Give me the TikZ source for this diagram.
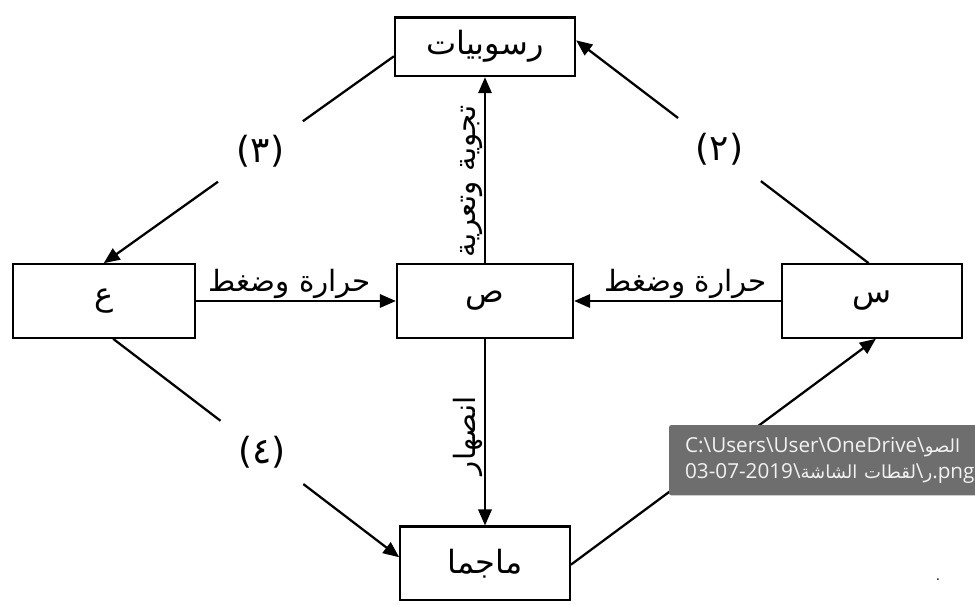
\documentclass[tikz,border=0pt]{standalone}
\usepackage{fontspec}
\usetikzlibrary{positioning, arrows.meta}
\TeXXeTstate=1
\newfontfamily\arabicfont[Script=Arabic]{DejaVu Sans}
\newfontfamily\tipfont{Open Sans}
\newcommand\tiparabic{\arabicfont\fontsize{13.5}{19.5}\selectfont}
\definecolor{tipgray}{HTML}{6E6E6E}
\definecolor{tiptext}{HTML}{F2F2F2}
\tikzset{
        ->, % every connector is directed
        >={Triangle[length=12pt,width=10pt]}, % filled triangle heads
        node distance=140pt, % gap between the boxes
    }
\tikzset{
      rock box/.style={
		draw,
		minimum width={#1},
		minimum height={55pt},
		inner sep=0pt,
		font=\arabicfont\fontsize{24}{28}\selectfont,
	  },
  		process/.style={
    	font=\arabicfont\fontsize{22}{26}\selectfont,
    	inner sep=1pt,
      },
  		stage/.style={
    	circle, fill=white,
    	minimum size=78pt,
    	font=\arabicfont\fontsize{27}{30}\selectfont,
      },
  		tooltip/.style={
    	fill=tipgray, text=tiptext,
    	rounded corners=1.5pt,
    	text width=300pt, align=left,
    	inner xsep=12pt, inner ysep=9pt,
    	font=\tipfont\fontsize{15.5}{19.5}\selectfont,
      }
  	}
\begin{document}
\begin{tikzpicture}[x=0.75pt, y=-0.75pt, line width=1.7pt]
    \useasboundingbox (0,0) rectangle (975,604);
    \node [rock box=132pt] (sad) at (485,301) {\beginR ص\endR};
    \node [rock box=135pt, minimum height=44pt, above=139.5pt of sad] (sed) {\beginR رسوبيات\endR};
    \node [rock box=136.5pt, left=150pt of sad] (ein) {\beginR ع\endR};
    \node [rock box=135pt, right=155pt of sad] (sin) {\beginR س\endR};
    \node [rock box=127pt, below=140pt of sad] (magma) {\beginR ماجما\endR};

    \draw (ein) -- node [process, above, pos=.47] {\beginR حرارة وضغط\endR} (sad);
    \draw (sin) -- node [process, above, pos=.46] {\beginR حرارة وضغط\endR} (sad);
    \draw (sad) -- node [process, rotate=90, anchor=south, pos=.44] {\beginR تجوية وتعرية\endR} (sed);
    \draw (sad) -- node [process, rotate=90, anchor=south, pos=.52] {\beginR انصهار\endR} (magma);

    \draw (sed.186) -- node [stage, pos=.46] {(٣)} (ein.north);
    \draw (sin.95) -- node [stage, pos=.51] {(٢)} (sed.4);
    \draw (ein.-76) -- node [stage, pos=.52] {(٤)} (magma.176);
    \draw (magma.-1) -- (sin.-84);

    \node [tooltip, anchor=north west] (tip) at (668,424)
      {C:\textbackslash Users\textbackslash User\textbackslash OneDrive\textbackslash{\tiparabic\beginR الصو\endR}\\
       03-07-2019\textbackslash{\tiparabic\beginR لقطات الشاشة\endR}\textbackslash{\tiparabic\beginR ر\endR}.png};
    \node [inner sep=0pt, font=\fontsize{16}{16}\selectfont] (dot) at (938,580) {.};
  \end{tikzpicture}
\end{document}
